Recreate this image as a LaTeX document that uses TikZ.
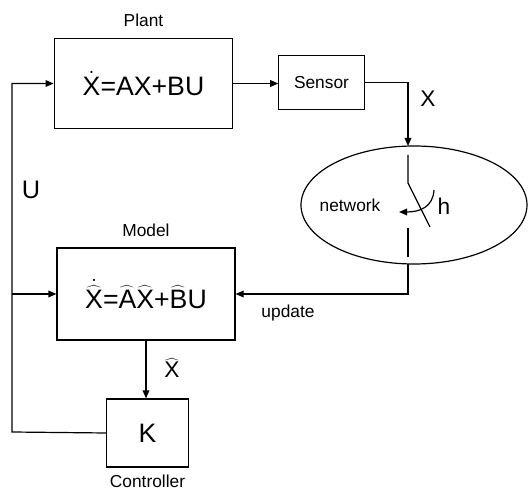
\documentclass[tikz,border=0pt]{standalone}
\usepackage{fontspec}
\setmainfont{Liberation Sans}
\usetikzlibrary{arrows.meta, positioning, shapes.geometric}

\begin{document}
\begin{tikzpicture}[
  x=0.75pt, y=-0.75pt,
  block/.style={rectangle, draw, line width=0.9pt, inner sep=0pt,
                font=\fontsize{20}{24}\selectfont},
  lbl/.style={font=\fontsize{13}{15}\selectfont, inner sep=1pt},
  sym/.style={font=\fontsize{17}{20}\selectfont, inner sep=1pt},
  arrow/.style={-{Triangle[length=6pt, width=5pt]}, line width=0.9pt},
  wire/.style={line width=0.9pt},
]
  \useasboundingbox (0,0) rectangle (529,495);

  % blocks
  \node[block, minimum width=134pt, minimum height=68pt] (plant) at (143.5,83.5)
    {$\dot{\mbox{X}}$=AX+BU};
  \node[block, minimum width=64pt, minimum height=41pt, font=\fontsize{13}{15}\selectfont]
    (sensor) at (321.5,82.5) {Sensor};
  \node[ellipse, draw, line width=0.9pt, minimum width=169.5pt, minimum height=88.5pt]
    (net) at (414,205) {};
  \node[block, minimum width=133.5pt, minimum height=69pt] (model) at (146,294)
    {$\dot{\widehat{\mbox{X}}}$=$\widehat{\mbox{A}}\widehat{\mbox{X}}$+$\widehat{\mbox{B}}$U};
  \node[block, minimum width=61pt, minimum height=51pt] (ctrl) at (147.5,433) {K};

  % labels
  \node[lbl, above=7pt of plant] (plantlbl) {Plant};
  \node[lbl, above=7pt of model] (modellbl) {Model};
  \node[lbl, below=4pt of ctrl] (ctrllbl) {Controller};
  \node[lbl] (netlbl) at (350,205) {network};
  \node[sym] (hlbl) at (444,206) {h};
  \node[sym] (xlbl) at (428,99) {X};
  \node[sym, font=\fontsize{19}{22}\selectfont] (ulbl) at (31,190) {U};
  \node[lbl] (updlbl) at (288,313) {update};
  \node[sym] (xhatlbl) at (172,368) {$\widehat{\mbox{X}}$};

  % switch
  \coordinate (swin) at (408,146);
  \coordinate (swout) at (408,264);
  \draw[wire] (408,155) -- (408,183) -- (430,227);
  \draw[wire] (408,228) -- (408,257);
  \draw[arrow] (434,190) .. controls (433,207) and (420,212) .. (399,212);

  % connectors
  \coordinate (corner) at (12,432);
  \draw[arrow] (ctrl.west) -- (corner) |- (plant.west);
  \draw[arrow] (corner |- model.west) -- (model.west);
  \draw[arrow] (plant.east) -- (plant.east -| sensor.west);
  \draw[arrow] (sensor.east) -| (swin);
  \draw[arrow] (swout) |- (model.east);
  \draw[arrow] (model.south) -- (model.south |- ctrl.north);
\end{tikzpicture}
\end{document}
